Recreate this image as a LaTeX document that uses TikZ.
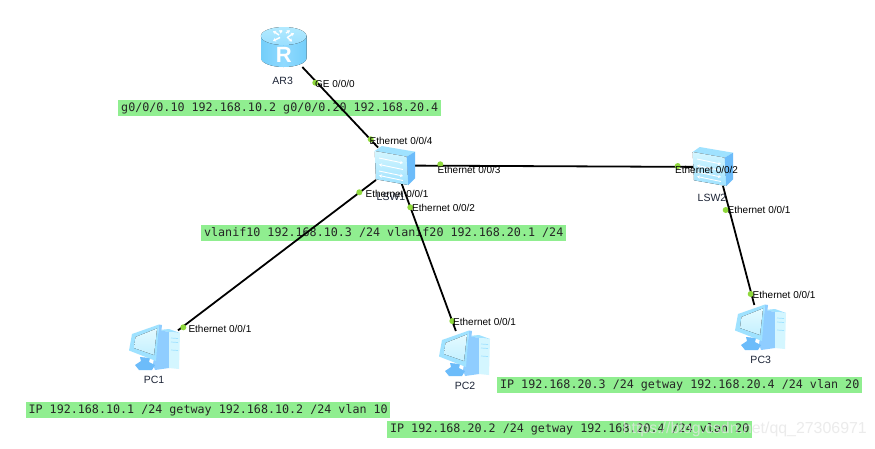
\documentclass[tikz,border=0pt]{standalone}
\usepackage{fontspec}
\setmainfont{Liberation Sans}
\newfontfamily\barfont{DejaVu Sans Mono}
\usetikzlibrary{arrows.meta}
\definecolor{barg}{HTML}{90EE90}
\definecolor{dotg}{HTML}{8FD83C}
\definecolor{devtxt}{HTML}{1C2436}
\definecolor{lightb}{HTML}{D4F6FF}
\definecolor{midb}{HTML}{9FE2FF}
\definecolor{deepb}{HTML}{6CBCFA}
\definecolor{rbody}{HTML}{74CEFA}
\definecolor{rbodymid}{HTML}{90DAFF}
\definecolor{rtop}{HTML}{B2EAFF}
\definecolor{rtopb}{HTML}{9ADFFF}
\definecolor{towerb}{HTML}{8FCDFF}
\definecolor{scrtop}{HTML}{E4FAFF}
\definecolor{scrbot}{HTML}{C4F0FF}
\tikzset{
  x=1pt,y=-1pt,
  anchorbox/.style={rectangle,inner sep=0pt,outer sep=0pt},
  link/.style={draw=black,line width=1.8pt},
  vbar/.style={anchor=west,fill=barg,inner sep=0pt,minimum height=16.5pt,font=\barfont\fontsize{11.7}{12}\selectfont,text=black!85},
  portlabel/.style={anchor=west,inner sep=0pt,font=\fontsize{10}{11}\selectfont,text=black},
  devlabel/.style={inner sep=0pt,font=\fontsize{10.5}{12}\selectfont,text=devtxt},
  portdot/.style={fill=dotg,draw=none},
  routericon/.pic={
    \fill[left color=rbody,right color=rbody,middle color=rbodymid] (261,36) -- (261,58) arc[x radius=22.8,y radius=9,start angle=180,end angle=0] -- (306.6,36) -- cycle;
    \fill[top color=rtop,bottom color=rtopb] (283.7,36) ellipse[x radius=22.8,y radius=9];
    \begin{scope}[white,line width=1.4pt,-{Stealth[length=3pt,width=4pt]}]
      \draw (279,35) -- (273,31);
      \draw (282,32) -- (279,30.5);
      \draw (288,37) -- (294,33);
      \draw (286,33) -- (290,30.5);
      \draw (280,37.5) -- (273,41);
      \draw (287,37) -- (292,41.5);
    \end{scope}
  },
  switchicon/.pic={
    \fill[midb] (374.7,151) -- (381.7,146) -- (415,151.7) -- (406.7,156.7) -- cycle;
    \fill[top color=lightb,bottom color=midb] (374.7,151) -- (406.7,156.7) -- (408.3,185) -- (376,179.3) -- cycle;
    \fill[deepb] (406.7,156.7) -- (415,151.7) -- (415,178.3) -- (408.3,185) -- cycle;
    \begin{scope}[white,line width=.9pt]
      \draw[-{Stealth[length=3pt,width=3.5pt]}] (379,158) -- (403,163);
      \draw[{Stealth[length=3pt,width=3.5pt]}-] (379,164.5) -- (403,169.5);
      \draw[-{Stealth[length=3pt,width=3.5pt]}] (379,171) -- (403,176);
      \draw[{Stealth[length=3pt,width=3.5pt]}-] (379,175.5) -- (403,180.5);
    \end{scope}
  },
  pcicon/.pic={
    \fill[midb] (34,10) -- (44,9) -- (55,13) -- (44,12) -- cycle;
    \fill[towerb] (34,10) -- (44,12) -- (44,48) -- (30,50) -- (28,44) -- cycle;
    \fill[lightb] (44,12) -- (55,13) -- (54,49) -- (44,48) -- cycle;
    \draw[midb,line width=.7pt] (46,18) -- (53,18.5) (46,22) -- (53,22.5) (46,30) -- (53,30.5);
    \fill[deepb] (10,45) -- (16,41) -- (15,37) -- (25,38) -- (24,42) -- (30,45) -- (27,50) -- (14,50) -- cycle;
    \fill[towerb] (34,4.5) -- (37,5) -- (33,42) -- (31,41) -- cycle;
    \fill[midb] (7,14) -- (34,4.5) -- (31,41) -- (4,30.5) -- cycle;
    \fill[top color=scrtop,bottom color=scrbot] (10.5,17) -- (32,8.5) -- (29,35) -- (9,28) -- cycle;
  }
}
\begin{document}
\begin{tikzpicture}
\useasboundingbox[fill=white] (0,0) rectangle (875,448);
% anchors of the devices
\node[anchorbox,minimum width=45pt,minimum height=40pt] (ar3) at (283.5,47) {};
\node[anchorbox,minimum width=38pt,minimum height=36pt] (lsw1) at (395,165.5) {};
\node[anchorbox,minimum width=28pt,minimum height=38pt] (lsw2) at (718,167) {};
\node[anchorbox,minimum width=48pt,minimum height=47pt] (pc1) at (154,348.5) {};
\node[anchorbox,minimum width=48pt,minimum height=47pt] (pc2) at (464.5,354.5) {};
\node[anchorbox,minimum width=48pt,minimum height=47pt] (pc3) at (760.5,328.5) {};
% address bars
\node[vbar,minimum width=323pt] (bara) at (118,108) {g0/0/0.10 192.168.10.2 g0/0/0.20 192.168.20.4};
\node[vbar,minimum width=365pt] (barb) at (201,233) {vlanif10 192.168.10.3 /24 vlanif20 192.168.20.1 /24};
\node[vbar,minimum width=364pt] (barc) at (26,410) {IP 192.168.10.1 /24 getway 192.168.10.2 /24 vlan 10};
\node[vbar,minimum width=365pt] (bard) at (387,429.5) {IP 192.168.20.2 /24 getway 192.168.20.4 /24 vlan 20};
\node[vbar,minimum width=365pt] (bare) at (497,385) {IP 192.168.20.3 /24 getway 192.168.20.4 /24 vlan 20};
% links
\draw[link] (ar3) -- (lsw1);
\draw[link] (lsw1) -- (lsw2);
\draw[link] (lsw1) -- (pc1);
\draw[link] (lsw1) -- (pc2);
\draw[link] (lsw2) -- (pc3);
% icons
\pic at (0,0) {routericon};
\node[inner sep=0pt,font=\bfseries\fontsize{22}{22}\selectfont,text=white] (rletter) at (283.7,55) {R};
\pic at (0,0) {switchicon};
\pic at (318,1) {switchicon};
\pic at (125,320) {pcicon};
\pic at (435,326) {pcicon};
\pic at (731,300) {pcicon};
% port dots
\foreach \p in {(315.3,82.7),(370.7,139.3),(440.3,164.3),(359.3,192.3),(410.3,207.3),(677.7,166),(725.7,210),(183.3,327.3),(452.3,321),(750.7,294)}
  \fill[portdot] \p circle[radius=3];
% device labels
\node[devlabel] (lar3) at (282.7,81) {AR3};
\node[devlabel] (llsw1) at (391,197) {LSW1};
\node[devlabel] (llsw2) at (712,198) {LSW2};
\node[devlabel] (lpc1) at (154,380) {PC1};
\node[devlabel] (lpc2) at (465,386) {PC2};
\node[devlabel] (lpc3) at (760.7,359.5) {PC3};
% port labels
\node[portlabel] (p1) at (315,84) {GE 0/0/0};
\node[portlabel] (p2) at (369.5,141) {Ethernet 0/0/4};
\node[portlabel] (p3) at (437.5,170) {Ethernet 0/0/3};
\node[portlabel] (p4) at (365.5,194) {Ethernet 0/0/1};
\node[portlabel] (p5) at (412,207.7) {Ethernet 0/0/2};
\node[portlabel] (p6) at (675,170) {Ethernet 0/0/2};
\node[portlabel] (p7) at (727.5,210) {Ethernet 0/0/1};
\node[portlabel] (p8) at (188.3,329) {Ethernet 0/0/1};
\node[portlabel] (p9) at (453,322) {Ethernet 0/0/1};
\node[portlabel] (p10) at (752.5,294.7) {Ethernet 0/0/1};
% watermark
\node[anchor=east,inner sep=0pt,font=\fontsize{15.9}{16}\selectfont,text=black!10,opacity=.75] (wm) at (867,429) {https://blog.csdn.net/qq\_27306971};
\end{tikzpicture}
\end{document}
